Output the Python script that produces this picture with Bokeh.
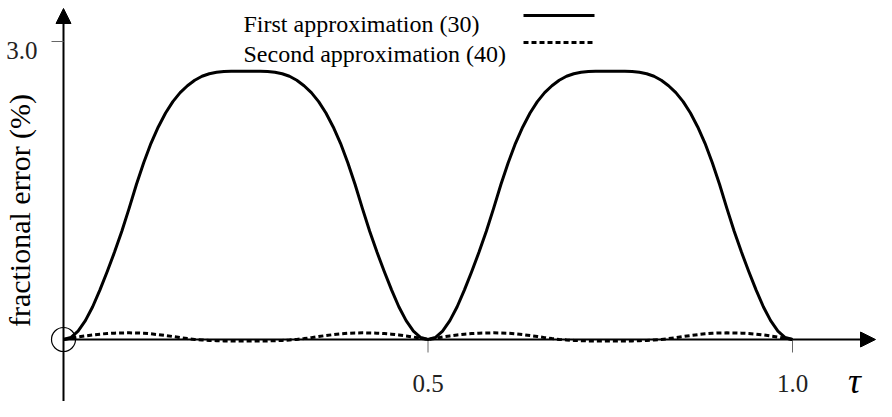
import math
from bokeh.plotting import figure
from bokeh.models import Range1d, Arrow, NormalHead
from bokeh.core.properties import value
from bokeh.embed import file_html
from bokeh.resources import INLINE

# ---------------- data ----------------
tau = [round(i * 0.01, 2) for i in range(101)]

first_approx = [
    0.000, 0.020, 0.085, 0.190, 0.330, 0.500, 0.685, 0.880, 1.090, 1.320,   # 0.00-0.09
    1.560, 1.780, 1.975, 2.140, 2.280, 2.395, 2.485, 2.555, 2.610, 2.650,   # 0.10-0.19
    2.675, 2.690, 2.698, 2.700, 2.700, 2.700, 2.700, 2.700, 2.698, 2.690,   # 0.20-0.29
    2.675, 2.650, 2.610, 2.555, 2.485, 2.395, 2.280, 2.140, 1.975, 1.780,   # 0.30-0.39
    1.560, 1.320, 1.090, 0.880, 0.685, 0.500, 0.330, 0.190, 0.085, 0.020,   # 0.40-0.49
    0.000, 0.020, 0.085, 0.190, 0.330, 0.500, 0.685, 0.880, 1.090, 1.320,   # 0.50-0.59
    1.560, 1.780, 1.975, 2.140, 2.280, 2.395, 2.485, 2.555, 2.610, 2.650,   # 0.60-0.69
    2.675, 2.690, 2.698, 2.700, 2.700, 2.700, 2.700, 2.700, 2.698, 2.690,   # 0.70-0.79
    2.675, 2.650, 2.610, 2.555, 2.485, 2.395, 2.280, 2.140, 1.975, 1.780,   # 0.80-0.89
    1.560, 1.320, 1.090, 0.880, 0.685, 0.500, 0.330, 0.190, 0.085, 0.020,   # 0.90-0.99
    0.000,                                                                  # 1.00
]

second_approx = [
    0.000, 0.012, 0.025, 0.036, 0.046, 0.054, 0.060, 0.064, 0.066, 0.067,            # 0.00-0.09
    0.066, 0.063, 0.057, 0.049, 0.040, 0.030, 0.019, 0.009, 0.001, -0.005,           # 0.10-0.19
    -0.009, -0.012, -0.014, -0.015, -0.016, -0.016, -0.016, -0.015, -0.014, -0.012,  # 0.20-0.29
    -0.009, -0.005, 0.001, 0.009, 0.019, 0.030, 0.040, 0.049, 0.057, 0.063,          # 0.30-0.39
    0.066, 0.067, 0.066, 0.064, 0.060, 0.054, 0.046, 0.036, 0.025, 0.012,            # 0.40-0.49
    0.000, 0.012, 0.025, 0.036, 0.046, 0.054, 0.060, 0.064, 0.066, 0.067,            # 0.50-0.59
    0.066, 0.063, 0.057, 0.049, 0.040, 0.030, 0.019, 0.009, 0.001, -0.005,           # 0.60-0.69
    -0.009, -0.012, -0.014, -0.015, -0.016, -0.016, -0.016, -0.015, -0.014, -0.012,  # 0.70-0.79
    -0.009, -0.005, 0.001, 0.009, 0.019, 0.030, 0.040, 0.049, 0.057, 0.063,          # 0.80-0.89
    0.066, 0.067, 0.066, 0.064, 0.060, 0.054, 0.046, 0.036, 0.025, 0.012,            # 0.90-0.99
    0.000,                                                                           # 1.00
]

series_names = ["First approximation (30)", "Second approximation (40)"]

x_ticks = [0.5, 1.0]
x_tick_labels = ["0.5", "1.0"]
y_ticks = [3.0]
y_tick_labels = ["3.0"]
x_axis_title = "τ"
y_axis_title = "fractional error (%)"

origin_x = [0.0]
origin_y = [0.0]

# ---------------- layout ----------------
W, H = 876, 401
X0_PX, X_SCALE = 63.0, 729.0     # canvas px of tau=0, px per unit
Y0_PX, Y_SCALE = 339.0, 99.33    # canvas px (from top) of 0, px per unit


def px2x(px):
    return (px - X0_PX) / X_SCALE


def px2y(py):
    return (Y0_PX - py) / Y_SCALE


x_start, x_end = px2x(0), px2x(W)
y_start, y_end = px2y(H), px2y(0)

p = figure(width=W, height=H, x_range=Range1d(x_start, x_end), y_range=Range1d(y_start, y_end),
           x_axis_type=None, y_axis_type=None, toolbar_location=None,
           output_backend="svg", min_border=0)
p.grid.visible = False
p.outline_line_color = None
p.background_fill_color = "white"
p.border_fill_color = "white"

FONT = value("Liberation Serif")

# axes with arrow heads
y_axis = Arrow(end=NormalHead(size=15, fill_color="black", line_color="black", line_width=1),
               x_start=0, y_start=y_start, x_end=0, y_end=px2y(8),
               line_color="black", line_width=2, level="underlay")
x_axis = Arrow(end=NormalHead(size=15, fill_color="black", line_color="black", line_width=1),
               x_start=0, y_start=0, x_end=px2x(875), y_end=0,
               line_color="black", line_width=2, level="underlay")
p.add_layout(y_axis)
p.add_layout(x_axis)

# ticks
tick_len_x = 13 / Y_SCALE
tick_len_y = 12 / X_SCALE
p.segment(x0=x_ticks, y0=[0] * len(x_ticks), x1=x_ticks, y1=[-tick_len_x] * len(x_ticks),
          line_color="#666666", line_width=1)
p.segment(x0=[-tick_len_y] * len(y_ticks), y0=y_ticks, x1=[0] * len(y_ticks), y1=y_ticks,
          line_color="#666666", line_width=1)

# tick labels
p.text(x=x_ticks, y=[px2y(383)] * len(x_ticks), text=x_tick_labels,
       text_font=FONT, text_font_size="25px", text_align="center",
       text_baseline="alphabetic", text_color="#222222")
p.text(x=[px2x(37)] * len(y_ticks), y=[t - 9 / Y_SCALE for t in y_ticks], text=y_tick_labels,
       text_font=FONT, text_font_size="25px", text_align="right",
       text_baseline="alphabetic", text_color="#222222")

# axis titles
p.text(x=[px2x(854)], y=[px2y(380)], text=[x_axis_title], text_font=FONT,
       text_font_size="36px", text_font_style="italic", text_align="center",
       text_baseline="alphabetic", text_color="black")
p.text(x=[px2x(19)], y=[px2y(210)], text=[y_axis_title], angle=math.pi / 2,
       text_font=FONT, text_font_size="30px", text_align="center",
       text_baseline="alphabetic", text_color="black")

# curves
p.line(tau, first_approx, line_color="black", line_width=3, line_join="round")
p.line(tau, second_approx, line_color="black", line_width=3, line_dash="5 3")

# origin circle
p.scatter(origin_x, origin_y, marker="circle", size=24, fill_color=None,
          line_color="black", line_width=1.2)

# legend (text left, sample line right)
leg_text_x = px2x(243)
leg_base = [px2y(23), px2y(53)]
leg_line_y = [px2y(15), px2y(42)]
leg_x0, leg_x1 = px2x(523), px2x(594)
p.text(x=[leg_text_x] * 2, y=leg_base, text=series_names, text_font=FONT,
       text_font_size="24px", text_align="left", text_baseline="alphabetic",
       text_color="black")
p.segment(x0=[leg_x0], y0=[leg_line_y[0]], x1=[leg_x1], y1=[leg_line_y[0]],
          line_color="black", line_width=3)
p.segment(x0=[leg_x0], y0=[leg_line_y[1]], x1=[leg_x1], y1=[leg_line_y[1]],
          line_color="black", line_width=3, line_dash="5 3")

open("out.html", "w").write(file_html(p, INLINE))
